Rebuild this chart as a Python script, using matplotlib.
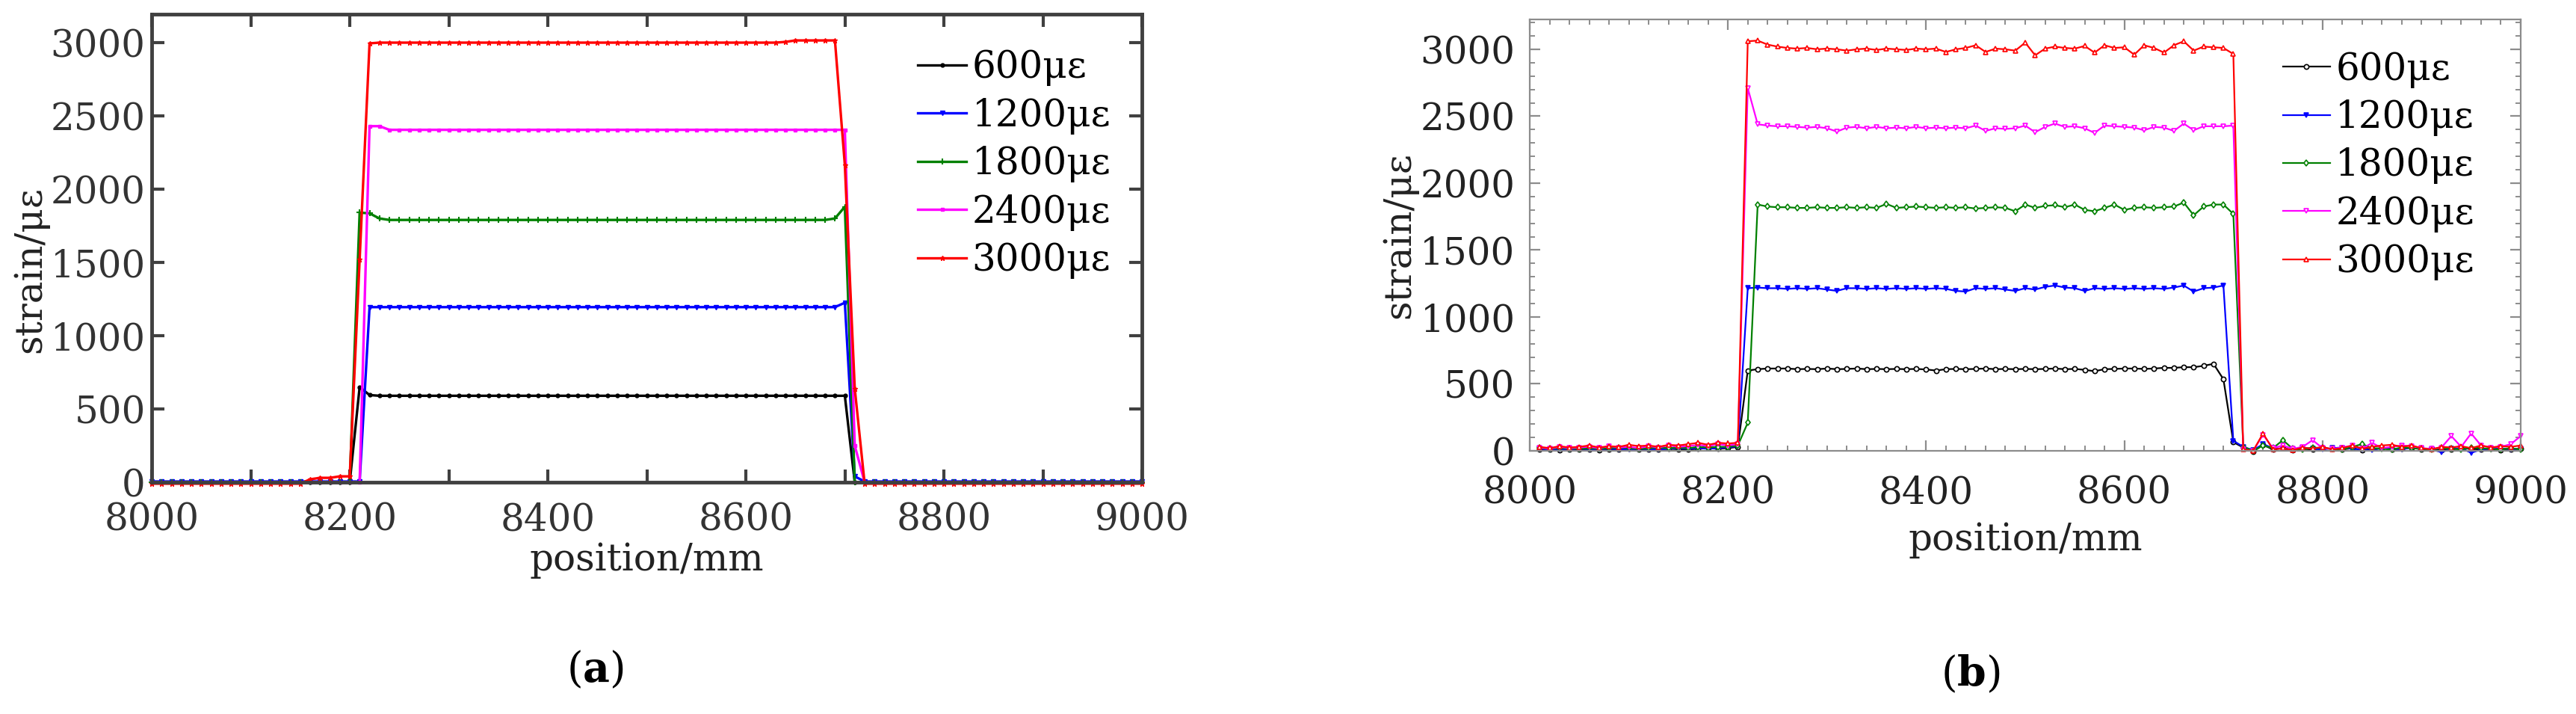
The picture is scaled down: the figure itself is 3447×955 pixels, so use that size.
import numpy as np
import matplotlib
matplotlib.use("Agg")
import matplotlib.pyplot as plt
import matplotlib.ticker as ticker

plt.rcParams['font.family'] = ['DejaVu Serif']
plt.rcParams['mathtext.fontset'] = 'dejavuserif'

W, H = 3448, 955

labels = ['600με', '1200με', '1800με', '2400με', '3000με']
colors = ['#000000', '#0000ff', '#008000', '#ff00ff', '#ff0000']

# ---- panel (a): 8000..9000 every 10 mm
x_a = np.arange(8000, 9001, 10)

black_a = [
    0, 0, 0, 0, 0, 0, 0, 0, 0, 0,
    0, 0, 0, 0, 0, 0, 0, 0, 0, 0,
    0, 650, 595, 590, 590, 590, 590, 590, 590, 590,
    590, 590, 590, 590, 590, 590, 590, 590, 590, 590,
    590, 590, 590, 590, 590, 590, 590, 590, 590, 590,
    590, 590, 590, 590, 590, 590, 590, 590, 590, 590,
    590, 590, 590, 590, 590, 590, 590, 590, 590, 590,
    590, 0, 0, 0, 0, 0, 0, 0, 0, 0,
    0, 0, 0, 0, 0, 0, 0, 0, 0, 0,
    0, 0, 0, 0, 0, 0, 0, 0, 0, 0,
    0]
blue_a = [
    5, 5, 5, 5, 5, 5, 5, 5, 5, 5,
    5, 5, 5, 5, 5, 5, 5, 5, 5, 5,
    5, 5, 1195, 1195, 1195, 1195, 1195, 1195, 1195, 1195,
    1195, 1195, 1195, 1195, 1195, 1195, 1195, 1195, 1195, 1195,
    1195, 1195, 1195, 1195, 1195, 1195, 1195, 1195, 1195, 1195,
    1195, 1195, 1195, 1195, 1195, 1195, 1195, 1195, 1195, 1195,
    1195, 1195, 1195, 1195, 1195, 1195, 1195, 1195, 1195, 1195,
    1225, 40, 5, 5, 5, 5, 5, 5, 5, 5,
    5, 5, 5, 5, 5, 5, 5, 5, 5, 5,
    5, 5, 5, 5, 5, 5, 5, 5, 5, 5,
    5]
green_a = [
    0, 0, 0, 0, 0, 0, 0, 0, 0, 0,
    0, 0, 0, 0, 0, 0, 0, 0, 0, 0,
    0, 1840, 1835, 1800, 1790, 1790, 1790, 1790, 1790, 1790,
    1790, 1790, 1790, 1790, 1790, 1790, 1790, 1790, 1790, 1790,
    1790, 1790, 1790, 1790, 1790, 1790, 1790, 1790, 1790, 1790,
    1790, 1790, 1790, 1790, 1790, 1790, 1790, 1790, 1790, 1790,
    1790, 1790, 1790, 1790, 1790, 1790, 1790, 1790, 1790, 1800,
    1880, 0, 0, 0, 0, 0, 0, 0, 0, 0,
    0, 0, 0, 0, 0, 0, 0, 0, 0, 0,
    0, 0, 0, 0, 0, 0, 0, 0, 0, 0,
    0]
pink_a = [
    0, 0, 0, 0, 0, 0, 0, 0, 0, 0,
    0, 0, 0, 0, 0, 0, 0, 0, 0, 0,
    0, 0, 2430, 2430, 2405, 2405, 2405, 2405, 2405, 2405,
    2405, 2405, 2405, 2405, 2405, 2405, 2405, 2405, 2405, 2405,
    2405, 2405, 2405, 2405, 2405, 2405, 2405, 2405, 2405, 2405,
    2405, 2405, 2405, 2405, 2405, 2405, 2405, 2405, 2405, 2405,
    2405, 2405, 2405, 2405, 2405, 2405, 2405, 2405, 2405, 2405,
    2405, 250, 0, 0, 0, 0, 0, 0, 0, 0,
    0, 0, 0, 0, 0, 0, 0, 0, 0, 0,
    0, 0, 0, 0, 0, 0, 0, 0, 0, 0,
    0]
red_a = [
    -10, -10, -10, -10, -10, -10, -10, -10, -10, -10,
    -10, -10, -10, -10, -10, -10, 20, 30, 30, 40,
    40, 1520, 2995, 3000, 3000, 3000, 3000, 3000, 3000, 3000,
    3000, 3000, 3000, 3000, 3000, 3000, 3000, 3000, 3000, 3000,
    3000, 3000, 3000, 3000, 3000, 3000, 3000, 3000, 3000, 3000,
    3000, 3000, 3000, 3000, 3000, 3000, 3000, 3000, 3000, 3000,
    3000, 3000, 3000, 3000, 3005, 3015, 3015, 3015, 3015, 3015,
    2165, 640, -10, -10, -10, -10, -10, -10, -10, -10,
    -10, -10, -10, -10, -10, -10, -10, -10, -10, -10,
    -10, -10, -10, -10, -10, -10, -10, -10, -10, -10,
    -10]

# ---- panel (b): 8010..9000 every 10 mm
x_b = np.arange(8010, 9001, 10)

black_b = [
    10, 12, 8, 10, 12, 10, 8, 12, 10, 15,
    10, 12, 10, 15, 12, 10, 15, 20, 15, 20,
    30, 600, 610, 615, 615, 615, 610, 612, 610, 615,
    610, 612, 615, 610, 612, 610, 612, 610, 612, 608,
    600, 610, 612, 610, 612, 615, 610, 612, 610, 612,
    610, 612, 615, 610, 612, 605, 595, 610, 612, 615,
    615, 612, 615, 620, 620, 625, 625, 635, 650, 535,
    65, 25, -5, 45, 10, 20, 5, 15, 10, 20,
    15, 10, 20, 5, 15, 20, 10, 15, 25, 10,
    15, 5, 10, 20, 15, 10, 15, 5, 10, 15]
blue_b = [
    15, 10, 12, 10, 15, 12, 10, 15, 12, 10,
    15, 12, 10, 15, 20, 15, 20, 15, 20, 25,
    35, 1215, 1220, 1215, 1215, 1210, 1215, 1210, 1215, 1205,
    1195, 1215, 1215, 1210, 1215, 1210, 1215, 1210, 1215, 1210,
    1215, 1210, 1195, 1190, 1215, 1210, 1215, 1205, 1195, 1215,
    1205, 1225, 1235, 1220, 1215, 1195, 1215, 1210, 1215, 1210,
    1215, 1210, 1215, 1210, 1220, 1235, 1190, 1215, 1220, 1235,
    75, 30, 5, 50, 20, 15, 10, 25, 15, 10,
    20, 25, 15, 10, 5, 20, 15, 10, 25, 15,
    10, -10, 15, 20, -15, 10, 15, 20, 10, 15]
green_b = [
    20, 15, 20, 18, 15, 20, 15, 20, 25, 20,
    15, 20, 25, 20, 25, 20, 30, 25, 30, 30,
    40, 210, 1840, 1825, 1820, 1820, 1815, 1815, 1820, 1815,
    1815, 1820, 1815, 1820, 1815, 1845, 1815, 1820, 1825, 1820,
    1815, 1820, 1815, 1820, 1810, 1815, 1820, 1815, 1790, 1840,
    1815, 1830, 1835, 1820, 1840, 1800, 1790, 1815, 1840, 1800,
    1815, 1820, 1815, 1820, 1825, 1855, 1760, 1825, 1840, 1840,
    1770, 30, 0, 40, 20, 80, 15, 10, 25, 20,
    15, 10, 30, 50, 20, 15, 10, 25, 20, 15,
    10, 20, 15, 10, 25, 20, 15, 10, 20, 10]
pink_b = [
    25, 15, 30, 20, 25, 30, 20, 35, 25, 30,
    20, 35, 25, 40, 30, 35, 45, 35, 50, 40,
    50, 2710, 2440, 2430, 2425, 2425, 2420, 2415, 2420, 2410,
    2385, 2415, 2420, 2410, 2420, 2410, 2415, 2410, 2420, 2410,
    2415, 2410, 2415, 2410, 2430, 2390, 2410, 2405, 2410, 2430,
    2380, 2420, 2445, 2420, 2425, 2410, 2375, 2430, 2425, 2420,
    2415, 2395, 2420, 2415, 2390, 2445, 2395, 2425, 2425, 2425,
    2430, 10, 0, 120, 20, 40, 15, 30, 80, 20,
    15, 25, 40, 15, 60, 20, 30, 40, 35, 20,
    15, 25, 110, 30, 130, 40, 25, 30, 50, 110]
red_b = [
    30, 20, 35, 25, 30, 40, 25, 35, 30, 45,
    35, 40, 30, 45, 40, 50, 60, 45, 60, 55,
    60, 3060, 3065, 3035, 3020, 3010, 3005, 3010, 3000, 3005,
    3000, 2990, 3000, 3005, 2995, 3005, 3000, 2995, 3005, 3000,
    3005, 2980, 3000, 3010, 3030, 2980, 3005, 3000, 2990, 3050,
    2955, 3005, 3020, 3010, 3005, 3025, 2975, 3030, 3010, 3015,
    2960, 3030, 3010, 2975, 3030, 3060, 2990, 3020, 3015, 3010,
    2965, 10, 0, 130, 10, 20, 5, 25, 15, 30,
    10, 20, 40, 15, 30, 40, 45, 30, 40, 20,
    10, 30, 25, 35, 20, 40, 25, 35, 30, 40]

series_a = [black_a, blue_a, green_a, pink_a, red_a]
series_b = [black_b, blue_b, green_b, pink_b, red_b]

FS = 36

fig = plt.figure(figsize=(W / 100, H / 100), dpi=100)


def px_axes(left, top, right, bottom):
    return fig.add_axes([left / W, 1 - bottom / H, (right - left) / W, (bottom - top) / H])


# ---------------- (a)
ax = px_axes(203, 19, 1528, 645)
marks_a = [dict(marker='.', ms=7), dict(marker='v', ms=4.5), dict(marker='+', ms=6, mew=1.5),
           dict(marker='s', ms=3), dict(marker='*', ms=5)]
for ys, c, lab, mk in zip(series_a, colors, labels, marks_a):
    ax.plot(x_a, ys, color=c, lw=2.4, label=lab, clip_on=False, **mk)
ax.set_xlim(8000, 9000)
ax.set_ylim(0, 3194)
ax.xaxis.set_major_locator(ticker.MultipleLocator(200))
ax.xaxis.set_minor_locator(ticker.MultipleLocator(100))
ax.yaxis.set_major_locator(ticker.MultipleLocator(500))
ax.tick_params(which='both', direction='in', top=True, right=True, length=12, width=3,
               color='#404040', labelsize=FS, labelcolor='#333333')
ax.tick_params(axis='x', which='major', pad=19)
ax.tick_params(axis='y', which='major', pad=6)
for s in ax.spines.values():
    s.set_linewidth(3.5)
    s.set_color('#404040')
ax.legend(loc='upper left', bbox_to_anchor=(0.7736, 0.925), frameon=False, fontsize=FS,
          borderpad=0, borderaxespad=0, handlelength=1.3, handletextpad=0.15,
          labelspacing=0.3, numpoints=1)
fig.text(41 / W, 1 - 361 / H, 'strain/με', rotation=90, ha='center', va='center', fontsize=FS,
         color='#222222')
fig.text(865 / W, 1 - 749 / H, 'position/mm', ha='center', va='center', fontsize=FS,
         color='#222222')
fig.text(796 / W, 1 - 896 / H, r'($\mathbf{a}$)', ha='center', va='center', fontsize=40)

# ---------------- (b)
ax = px_axes(2047, 26, 3373, 603)
marks_b = [dict(marker='o', ms=4.5, mfc='white'), dict(marker='v', ms=4.5),
           dict(marker='d', ms=4.5, mfc='white'), dict(marker='v', ms=4.5, mfc='white'),
           dict(marker='^', ms=4.5, mfc='white')]
for ys, c, lab, mk in zip(series_b, colors, labels, marks_b):
    ax.plot(x_b, ys, color=c, lw=1.6, label=lab, clip_on=False, mew=1.2, **mk)
ax.set_xlim(8000, 9000)
ax.set_ylim(0, 3223)
ax.xaxis.set_major_locator(ticker.MultipleLocator(200))
ax.xaxis.set_minor_locator(ticker.MultipleLocator(20))
ax.yaxis.set_major_locator(ticker.MultipleLocator(500))
ax.yaxis.set_minor_locator(ticker.MultipleLocator(100))
ax.tick_params(which='both', direction='in', top=True, right=True, color='#8c8c8c',
               labelsize=FS, labelcolor='#222222')
ax.tick_params(which='major', length=10, width=1.6)
ax.tick_params(which='minor', length=5, width=1.4)
ax.tick_params(axis='x', which='major', pad=23)
ax.tick_params(axis='y', which='major', pad=14)
for s in ax.spines.values():
    s.set_linewidth(1.6)
    s.set_color('#8c8c8c')
ax.legend(loc='upper left', bbox_to_anchor=(0.760, 0.927), frameon=False, fontsize=FS,
          borderpad=0, borderaxespad=0, handlelength=1.26, handletextpad=0.15,
          labelspacing=0.3, numpoints=1)
fig.text(1873 / W, 1 - 315 / H, 'strain/με', rotation=90, ha='center', va='center', fontsize=FS,
         color='#222222')
fig.text(2710 / W, 1 - 722 / H, 'position/mm', ha='center', va='center', fontsize=FS,
         color='#222222')
fig.text(2637 / W, 1 - 902 / H, r'($\mathbf{b}$)', ha='center', va='center', fontsize=40)

fig.savefig('out.png', dpi=100)
